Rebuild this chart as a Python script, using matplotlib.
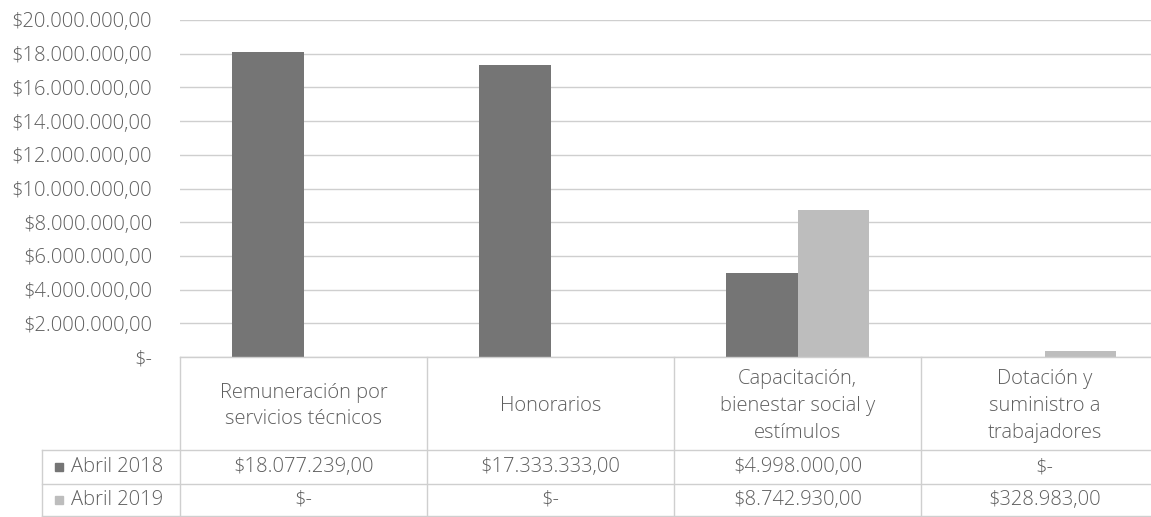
import matplotlib.pyplot as plt
from matplotlib.lines import Line2D
from matplotlib.patches import Rectangle
from matplotlib.transforms import blended_transform_factory

# datos del gráfico
categorias = [
    "Remuneración por\nservicios técnicos",
    "Honorarios",
    "Capacitación,\nbienestar social y\nestímulos",
    "Dotación y\nsuministro a\ntrabajadores",
]
series = ["Abril 2018", "Abril 2019"]
abril_2018 = [18077239, 17333333, 4998000, 0]
abril_2019 = [0, 0, 8742930, 328983]
ticks_y = [0, 2e6, 4e6, 6e6, 8e6, 10e6, 12e6, 14e6, 16e6, 18e6, 20e6]

colores = ["#757575", "#bdbdbd"]
color_texto = "#5e5e5e"
color_linea = "#cfcfcf"

plt.rcParams["font.family"] = ["Open Sans", "DejaVu Sans"]
TAM = 14.5

W, H = 1151, 517


def fx(px):
    return px / W


def fy(py):
    return 1 - py / H


def pesos(v):
    """Formato de moneda: $18.077.239,00"""
    if v == 0:
        return "$-"
    s = f"${v:,.2f}"
    return s.replace(",", "X").replace(".", ",").replace("X", ".")


fig = plt.figure(figsize=(W / 100, H / 100), dpi=100)
fig.patch.set_facecolor("white")

# área del gráfico (en píxeles de la imagen)
ax = fig.add_axes([fx(180), fy(357), fx(1168) - fx(180), (357 - 20) / H])
ax.set_xlim(-0.5, len(categorias) - 0.5)
ax.set_ylim(0, 20e6)

ancho = 0.29
x = list(range(len(categorias)))
ax.bar([i - ancho / 2 for i in x], abril_2018, width=ancho, color=colores[0], zorder=3)
ax.bar([i + ancho / 2 for i in x], abril_2019, width=ancho, color=colores[1], zorder=3)

ax.set_yticks(ticks_y)
ax.set_yticklabels([pesos(t) for t in ticks_y], fontsize=TAM, color=color_texto,
                   fontweight="light")
ax.tick_params(axis="y", length=0, pad=20)
ax.set_xticks([])
ax.grid(axis="y", color=color_linea, linewidth=1, zorder=0)
for s in ax.spines.values():
    s.set_visible(False)

# tabla de datos debajo del gráfico
tr = blended_transform_factory(ax.transData, fig.transFigure)
y_top, y_head, y_r1, y_r2 = 357, 450, 484, 516
x_left = 42


def linea(xs, ys, transform):
    fig.add_artist(Line2D(xs, ys, transform=transform, color=color_linea, lw=1))


linea([-0.5, len(categorias) - 0.5], [fy(y_top)] * 2, tr)
for b in [i - 0.5 for i in range(len(categorias) + 1)]:
    linea([b, b], [fy(y_top), fy(y_r2)], tr)
for yy in (y_head, y_r1, y_r2):
    linea([fx(x_left), fx(1168)], [fy(yy)] * 2, fig.transFigure)
linea([fx(x_left)] * 2, [fy(y_head), fy(y_r2)], fig.transFigure)

for i, cat in enumerate(categorias):
    fig.text(i, fy(406), cat, transform=tr, ha="center", va="center",
             fontsize=TAM, color=color_texto, linespacing=1.45, fontweight="light")

filas = [abril_2018, abril_2019]
centros = [(y_head + y_r1) / 2, (y_r1 + y_r2) / 2]
for nombre, valores, yc, col in zip(series, filas, centros, colores):
    fig.add_artist(Rectangle((fx(55), fy(yc + 4)), fx(8), 8 / H,
                             transform=fig.transFigure, color=col))
    fig.text(fx(71), fy(yc), nombre, ha="left", va="center", fontsize=TAM,
             color=color_texto, fontweight="light")
    for i, v in enumerate(valores):
        fig.text(i, fy(yc), pesos(v), transform=tr, ha="center", va="center",
                 fontsize=TAM, color=color_texto, fontweight="light")

fig.savefig("out.png", dpi=100)
plt.close(fig)
